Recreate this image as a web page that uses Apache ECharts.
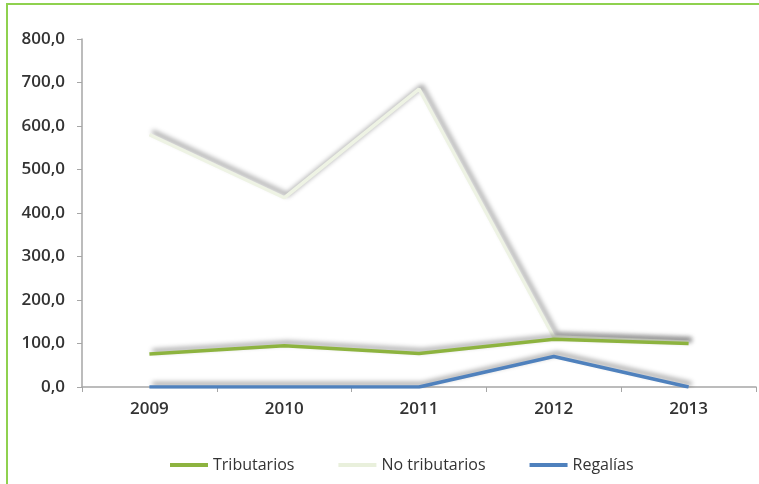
<!DOCTYPE html>
<html>
<head>
<meta charset="utf-8">
<script src="https://cdn.jsdelivr.net/npm/echarts@6/dist/echarts.min.js"></script>
<style>
  html, body { margin: 0; padding: 0; background: #fff; }
  #frame { position: absolute; left: 6px; top: 3px; width: 753px; height: 481px;
           border-top: 2px solid #8fd14f; border-left: 2px solid #8fd14f; box-sizing: border-box; }
  #chart { position: absolute; left: 0; top: 0; width: 759px; height: 484px; }
</style>
</head>
<body>
<div id="frame"></div>
<div id="chart"></div>
<script>
const categories = ['2009', '2010', '2011', '2012', '2013'];
const tributarios = [76, 95, 77, 110, 100];
const noTributarios = [580, 435, 685, 115, 103];
const regalias = [0, 0, 0, 70, 0];
const yTicks = [0, 100, 200, 300, 400, 500, 600, 700, 800];

const chart = echarts.init(document.getElementById('chart'), null, { renderer: 'canvas' });
const shadow = { shadowColor: 'rgba(0,0,0,0.42)', shadowBlur: 5, shadowOffsetX: 3, shadowOffsetY: -3 };
const labelFont = { fontFamily: 'Open Sans', fontSize: 17, fontWeight: 600, color: '#333333' };

chart.setOption({
  animation: false,
  grid: { left: 82, right: 3, top: 39, bottom: 97 },
  legend: {
    left: 165, top: 452,
    itemWidth: 38, itemHeight: 4, itemGap: 44,
    icon: 'rect',
    textStyle: { fontFamily: 'Open Sans', fontSize: 16, color: '#333333' },
    data: ['Tributarios', 'No tributarios', 'Regalías']
  },
  xAxis: {
    type: 'category',
    data: categories,
    boundaryGap: true,
    axisLine: { lineStyle: { color: '#a6a6a6', width: 1.5 } },
    axisTick: { show: true, length: 5, lineStyle: { color: '#a6a6a6' } },
    axisLabel: Object.assign({ margin: 14 }, labelFont)
  },
  yAxis: {
    type: 'value',
    min: yTicks[0], max: yTicks[yTicks.length - 1], interval: 100,
    axisLine: { show: true, lineStyle: { color: '#a6a6a6', width: 1.5 } },
    axisTick: { show: true, length: 5, lineStyle: { color: '#a6a6a6' } },
    splitLine: { show: false },
    axisLabel: Object.assign({ margin: 17, formatter: v => v.toFixed(1).replace('.', ',') }, labelFont)
  },
  series: [
    { name: 'Tributarios', type: 'line', data: tributarios, symbol: 'none', z: 3,
      itemStyle: { color: '#8db33f' },
      lineStyle: Object.assign({ color: '#8db33f', width: 3.5 }, shadow) },
    { name: 'No tributarios', type: 'line', data: noTributarios, symbol: 'none', z: 2,
      itemStyle: { color: '#e9f0dc' },
      lineStyle: Object.assign({ color: '#eef3e4', width: 3.5 }, shadow) },
    { name: 'Regalías', type: 'line', data: regalias, symbol: 'none', z: 4,
      itemStyle: { color: '#4f81bd' },
      lineStyle: Object.assign({ color: '#4f81bd', width: 3.5 }, shadow) }
  ]
});
</script>
</body>
</html>
